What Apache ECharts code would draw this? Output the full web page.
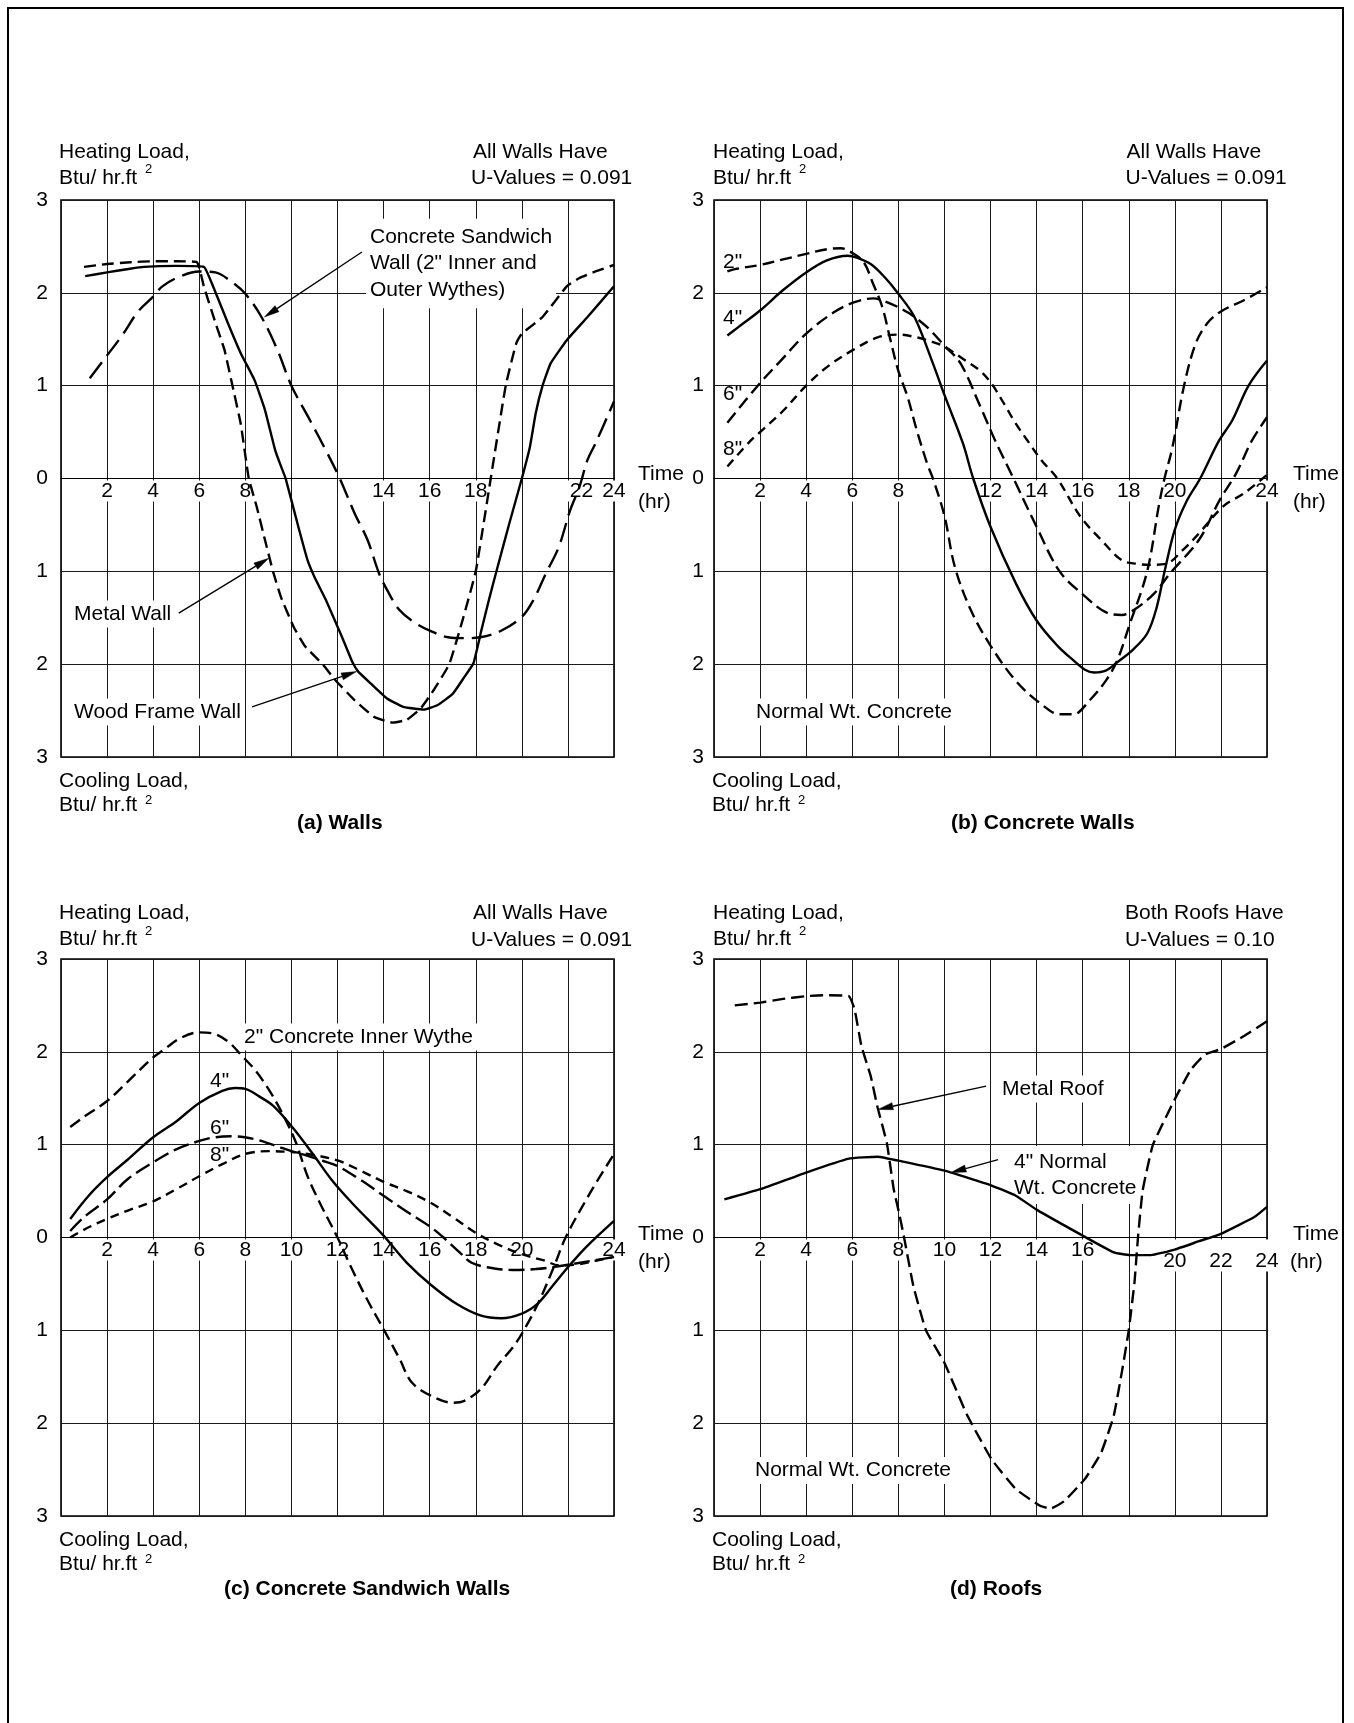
<!DOCTYPE html>
<html>
<head>
<meta charset="utf-8">
<script src="https://cdn.jsdelivr.net/npm/echarts@6/dist/echarts.min.js"></script>
<style>
html,body{margin:0;padding:0;background:#fff;}
#c{width:1354px;height:1723px;}
</style>
</head>
<body>
<div id="c"></div>
<script>
// ---------------- DATA (hour of day, load in Btu/hr.ft2; + heating, - cooling) ----------------
const hourMin = 0, hourMax = 24, hourStep = 2;
const loadMin = -3, loadMax = 3, loadStep = 1;

// x tick labels that are printed in each panel
const xLabelsA = [2, 4, 6, 8, 14, 16, 18, 22, 24];
const xLabelsB = [2, 4, 6, 8, 12, 14, 16, 18, 20, 24];
const xLabelsC = [2, 4, 6, 8, 10, 12, 14, 16, 18, 20, 24];
const xLabelsD = [2, 4, 6, 8, 10, 12, 14, 16, 20, 22, 24];

// (a) Walls
const metalWall = [[1,2.28],[2,2.31],[3,2.33],[4,2.34],[5,2.34],[5.9,2.33],[6.2,2.07],[6.7,1.68],[7.1,1.38],[7.45,0.99],[7.8,0.59],[8.15,0],[8.5,-0.31],[8.85,-0.66],[9.2,-1.0],[9.55,-1.28],[10.1,-1.6],[10.6,-1.81],[11.35,-2.0],[11.9,-2.17],[12.75,-2.39],[13.6,-2.57],[14.4,-2.63],[15,-2.6],[15.6,-2.48],[16.2,-2.27],[16.85,-2.0],[17.4,-1.55],[18,-1.0],[18.65,0],[19.3,1.0],[19.75,1.45],[20,1.56],[20.9,1.74],[21.95,2.07],[22.5,2.16],[23.2,2.23],[24,2.3]];
const woodFrameWall = [[1.05,2.18],[2,2.22],[3,2.26],[3.6,2.28],[5,2.29],[6.2,2.28],[6.55,2.1],[7.25,1.67],[7.8,1.35],[8.4,1.06],[8.85,0.74],[9.3,0.3],[9.55,0.13],[9.75,0],[10.3,-0.52],[10.7,-0.88],[11,-1.06],[11.5,-1.31],[12.2,-1.71],[12.65,-1.98],[12.9,-2.08],[13.45,-2.21],[14.15,-2.37],[14.85,-2.46],[15.75,-2.49],[16.35,-2.44],[17,-2.32],[17.5,-2.14],[17.9,-1.99],[18.25,-1.63],[18.6,-1.28],[18.95,-0.95],[19.45,-0.49],[20,0],[20.35,0.34],[20.6,0.7],[20.9,1.0],[21.25,1.24],[21.95,1.49],[22.85,1.74],[24,2.07]];
const sandwichWall = [[1.25,1.08],[1.95,1.31],[2.65,1.54],[3.35,1.8],[4,1.96],[4.4,2.07],[5.1,2.17],[6,2.23],[6.7,2.22],[7.4,2.12],[8,1.99],[8.7,1.74],[9.4,1.38],[10,1.0],[10.8,0.63],[11.5,0.3],[12.1,0],[12.75,-0.38],[13.3,-0.66],[13.8,-1.02],[14.15,-1.2],[14.7,-1.42],[15.4,-1.56],[16.1,-1.65],[16.8,-1.71],[17.5,-1.72],[18.2,-1.71],[19.1,-1.64],[20,-1.49],[20.5,-1.31],[21.05,-1.02],[21.6,-0.74],[22.1,-0.34],[22.5,-0.09],[22.85,0.2],[23.2,0.38],[24,0.83]];

// (b) Concrete walls, normal weight concrete
const concrete2in = [[0.58,2.23],[1,2.26],[2,2.3],[3,2.36],[4,2.42],[4.9,2.47],[5.5,2.48],[6,2.43],[6.5,2.33],[6.9,2.1],[7.3,1.85],[7.65,1.5],[8,1.16],[8.4,0.88],[8.8,0.52],[9.25,0.16],[9.5,0],[10,-0.4],[10.45,-0.95],[11.15,-1.42],[12,-1.8],[13.1,-2.18],[14.2,-2.43],[15,-2.54],[15.6,-2.54],[16.3,-2.39],[17,-2.18],[17.5,-1.96],[18,-1.6],[18.8,-1.0],[19.3,-0.3],[19.55,0],[19.9,0.34],[20.4,1.0],[20.9,1.45],[21.4,1.67],[22,1.8],[23,1.92],[24,2.06]];
const concrete4in = [[0.58,1.54],[1,1.62],[2,1.81],[3,2.03],[4,2.22],[4.9,2.35],[5.8,2.4],[6.2,2.38],[6.8,2.31],[7.4,2.17],[8,1.99],[8.7,1.74],[9.5,1.24],[10,0.9],[10.8,0.38],[11.25,0],[12,-0.52],[13.1,-1.13],[14,-1.53],[14.9,-1.8],[15.6,-1.96],[16.1,-2.06],[16.5,-2.09],[17,-2.07],[17.5,-1.98],[18.2,-1.84],[18.8,-1.67],[19.2,-1.4],[19.6,-0.95],[20,-0.55],[20.5,-0.25],[21.1,0],[21.9,0.4],[22.5,0.63],[23.2,1.0],[24,1.27]];
const concrete6in = [[0.58,0.6],[1.9,1.0],[2.9,1.27],[4,1.56],[5.2,1.79],[6.1,1.9],[6.9,1.94],[7.5,1.9],[8.4,1.79],[9.25,1.63],[10,1.43],[10.7,1.24],[11.55,0.78],[12.2,0.41],[13,0],[14,-0.52],[15,-1.0],[16.1,-1.27],[17,-1.44],[17.7,-1.47],[18.2,-1.42],[19.1,-1.24],[19.8,-1.02],[21.05,-0.66],[21.95,-0.23],[22.65,0.05],[23.35,0.41],[24,0.66]];
const concrete8in = [[0.58,0.13],[1.6,0.41],[2,0.5],[3,0.73],[4,1.0],[4.9,1.2],[6,1.38],[7.1,1.52],[8,1.55],[8.8,1.52],[9.5,1.47],[10,1.42],[10.8,1.29],[11.55,1.16],[12.05,1.02],[12.6,0.8],[13.1,0.59],[13.6,0.41],[14.2,0.2],[14.9,0],[15.9,-0.41],[16.8,-0.66],[17.7,-0.88],[18.4,-0.92],[18.9,-0.93],[19.6,-0.92],[20.35,-0.77],[21.05,-0.59],[22.1,-0.3],[23,-0.16],[24,0.04]];

// (c) Concrete sandwich walls (inner wythe thickness)
const sandwich2in = [[0.4,1.19],[1,1.3],[2,1.47],[2.9,1.68],[4,1.94],[4.5,2.03],[5.2,2.15],[6,2.21],[6.7,2.19],[7.3,2.1],[7.8,1.97],[8.4,1.81],[9,1.6],[9.6,1.34],[10.2,1.02],[10.7,0.66],[11.3,0.34],[12,0],[12.57,-0.31],[13.27,-0.66],[14.07,-1.02],[14.7,-1.31],[15.22,-1.56],[16.1,-1.71],[17,-1.78],[17.5,-1.76],[18.23,-1.63],[18.94,-1.38],[19.65,-1.17],[20.2,-0.95],[20.8,-0.66],[21.4,-0.31],[21.9,0],[22.8,0.41],[23.3,0.62],[24,0.9]];
const sandwich4in = [[0.4,0.2],[1.2,0.45],[2,0.65],[2.9,0.84],[4,1.08],[5,1.25],[6,1.45],[7,1.58],[7.55,1.61],[8,1.6],[8.6,1.52],[9.2,1.42],[10,1.2],[10.9,0.91],[11.75,0.62],[12.6,0.38],[13.3,0.2],[14,0.02],[15,-0.27],[16.1,-0.52],[17.2,-0.72],[18.2,-0.84],[19.1,-0.87],[20,-0.82],[20.7,-0.71],[21.4,-0.5],[22,-0.32],[22.8,-0.1],[24,0.18]];
const sandwich6in = [[0.4,0.07],[1,0.22],[2,0.41],[2.9,0.63],[4,0.81],[5,0.95],[6,1.04],[6.7,1.08],[7.5,1.09],[8.4,1.06],[9.3,0.99],[10,0.93],[10.7,0.88],[11.3,0.83],[12,0.77],[13,0.62],[14,0.45],[15,0.28],[16,0.12],[16.6,0],[17.3,-0.16],[17.8,-0.27],[18.5,-0.32],[19.6,-0.35],[20.6,-0.34],[21.6,-0.31],[22.8,-0.26],[24,-0.21]];
const sandwich8in = [[0.4,0.0],[1.2,0.11],[2,0.2],[2.9,0.29],[4,0.39],[5,0.52],[6,0.66],[7,0.79],[8,0.9],[9,0.93],[10,0.92],[10.7,0.9],[12,0.83],[13,0.72],[14,0.6],[15,0.5],[16,0.38],[17,0.22],[18,0.05],[19,-0.08],[20,-0.18],[21,-0.25],[21.6,-0.3],[22.4,-0.29],[23.2,-0.25],[24,-0.21]];

// (d) Roofs
const metalRoof = [[0.9,2.5],[2,2.53],[3,2.57],[4,2.6],[4.8,2.61],[5.85,2.6],[6.1,2.46],[6.4,2.06],[6.8,1.74],[7.1,1.4],[7.5,1.02],[7.8,0.52],[8,0.3],[8.25,0],[8.65,-0.52],[9.2,-1.0],[10,-1.35],[11,-1.92],[12.05,-2.39],[13.1,-2.71],[14.15,-2.89],[14.6,-2.92],[15.2,-2.84],[16.1,-2.6],[16.8,-2.32],[17.35,-1.92],[17.7,-1.45],[18,-1.0],[18.25,-0.48],[18.4,0],[18.6,0.5],[19.05,1.0],[20,1.49],[20.7,1.81],[21.3,1.97],[22,2.03],[23,2.17],[24,2.33]];
const concreteRoof = [[0.45,0.41],[2,0.52],[4,0.7],[5.85,0.85],[7.1,0.87],[8.15,0.82],[10,0.72],[12.05,0.56],[13.1,0.45],[14,0.3],[16,0.02],[17.35,-0.16],[18.05,-0.19],[18.95,-0.19],[20,-0.13],[21.05,-0.04],[22,0.04],[23.45,0.22],[24,0.33]];

// ---------------- LAYOUT / STYLE ----------------
const FONT = '"Liberation Sans", Arial, Helvetica, sans-serif';
const FS = 21;
const PW = 553, PH = 557;
const panels = [
  {left: 61,  top: 200, ylm: 13, labels: xLabelsA, low: [],         shift: [22]},
  {left: 714, top: 200, ylm: 10, labels: xLabelsB, low: [],         shift: []},
  {left: 61,  top: 959, ylm: 13, labels: xLabelsC, low: [],         shift: []},
  {left: 714, top: 959, ylm: 10, labels: xLabelsD, low: [20,22,24], shift: []}
];

const seriesDefs = [
  {g:0, name:'Metal Wall',        data: metalWall,     dash:[12,6], smooth:0.12},
  {g:0, name:'Wood Frame Wall',   data: woodFrameWall, dash:null,   smooth:0.12},
  {g:0, name:'Concrete Sandwich', data: sandwichWall,  dash:[20,8], smooth:0.35},
  {g:1, name:'2"', data: concrete2in, dash:[12,6], smooth:0.35},
  {g:1, name:'4"', data: concrete4in, dash:null,   smooth:0.35},
  {g:1, name:'6"', data: concrete6in, dash:[13,6], smooth:0.35},
  {g:1, name:'8"', data: concrete8in, dash:[9,6],  smooth:0.35},
  {g:2, name:'2"', data: sandwich2in, dash:[12,6], smooth:0.35},
  {g:2, name:'4"', data: sandwich4in, dash:null,   smooth:0.35},
  {g:2, name:'6"', data: sandwich6in, dash:[16,6], smooth:0.35},
  {g:2, name:'8"', data: sandwich8in, dash:[9,6],  smooth:0.35},
  {g:3, name:'Metal Roof',   data: metalRoof,    dash:[13,6], smooth:0.12},
  {g:3, name:'4" Concrete',  data: concreteRoof, dash:null,   smooth:0.12}
];

const grid = panels.map(p => ({
  left: p.left, top: p.top, width: PW, height: PH,
  show: true, borderColor: '#000', borderWidth: 1.6, backgroundColor: 'transparent',
  containLabel: false, outerBoundsMode: 'none'
}));

const xAxis = [];
panels.forEach((p, g) => {
  // base axis: vertical grid lines
  xAxis.push({
    type: 'value', gridIndex: g, min: hourMin, max: hourMax, interval: hourStep,
    position: 'top', z: 0,
    axisLine: {show: false, onZero: false}, axisTick: {show: false}, axisLabel: {show: false},
    splitLine: {show: true, lineStyle: {color: '#1a1a1a', width: 1}}
  });
  // label axis placed on the load = 0 line (middle of the symmetric load range)
  xAxis.push({
    type: 'value', gridIndex: g, min: hourMin, max: hourMax, interval: hourStep,
    position: 'bottom', offset: -PH / 2, z: 1,
    axisLine: {show: true, onZero: false, lineStyle: {color: '#000', width: 1}},
    axisTick: {show: false},
    splitLine: {show: false},
    axisLabel: {
      show: true, customValues: p.labels, margin: 2,
      showMinLabel: true, showMaxLabel: true,
      color: '#000', fontSize: FS, fontFamily: FONT,
      backgroundColor: '#fff', padding: [0, 2, 0, 2],
      formatter: v => {
        if (p.labels.indexOf(v) < 0) return '';
        if (p.low.indexOf(v) >= 0) return '{lo|' + v + '}';
        if (p.shift.indexOf(v) >= 0) return '{sh|' + v + '}';
        return '{n|' + v + '}';
      },
      rich: {
        n:  {fontSize: FS, fontFamily: FONT, color: '#000'},
        lo: {fontSize: FS, fontFamily: FONT, color: '#000', padding: [11, 0, 0, 0]},
        sh: {fontSize: FS, fontFamily: FONT, color: '#000', padding: [0, 0, 0, 27]}
      }
    }
  });
});

const yAxis = panels.map((p, g) => ({
  type: 'value', gridIndex: g, min: loadMin, max: loadMax, interval: loadStep,
  axisLine: {show: false}, axisTick: {show: false},
  splitLine: {show: true, lineStyle: {color: '#1a1a1a', width: 1}},
  axisLabel: {
    show: true, margin: p.ylm, color: '#000', fontSize: FS, fontFamily: FONT,
    padding: [5, 0, 0, 0],
    showMinLabel: true, showMaxLabel: true,
    formatter: v => String(Math.abs(v))
  }
}));

const series = seriesDefs.map(s => ({
  type: 'line', name: s.name, xAxisIndex: 2 * s.g, yAxisIndex: s.g,
  data: s.data, symbol: 'none', showSymbol: false,
  smooth: s.smooth,
  lineStyle: {color: '#000', width: 2.4, type: s.dash ? s.dash : 'solid'},
  z: 2, silent: true, animation: false
}));

const chart = echarts.init(document.getElementById('c'), null, {renderer: 'canvas', width: 1354, height: 1723});
chart.setOption({
  backgroundColor: '#fff',
  animation: false,
  grid, xAxis, yAxis, series
});

// ---------------- TEXT + ANNOTATIONS ----------------
function txt(x, y, s, o) {
  o = o || {};
  const size = o.size || FS;
  const weight = o.bold ? 'bold' : 'normal';
  const st = {
    text: s, x: 0, y: 0, fill: '#000',
    font: weight + ' ' + size + 'px ' + FONT,
    fontSize: size, fontFamily: FONT, fontWeight: weight,
    align: 'left', textAlign: 'left', verticalAlign: 'middle', textVerticalAlign: 'middle'
  };
  if (o.lh) st.lineHeight = o.lh;
  if (o.bg) { st.backgroundColor = '#fff'; st.padding = o.pad || [3, 4, 3, 4]; }
  return {type: 'text', x: x, y: y, z: o.bg ? 1 : 5, silent: true, style: st};
}
function btu(x, y, supDy) {
  return [txt(x, y, 'Btu/ hr.ft'), txt(x + 86, y - supDy, '2', {size: 13})];
}

const g = [];
// frame
g.push({type: 'rect', z: 6, silent: true, shape: {x: 8, y: 8, width: 1335, height: 1760},
        style: {fill: 'none', stroke: '#000', lineWidth: 2}});

// panel (a)
g.push(txt(59, 152, 'Heating Load,'), ...btu(59, 178, 8.5));
g.push(txt(473, 152, 'All Walls Have'), txt(471, 178, 'U-Values = 0.091'));
g.push(txt(638, 474, 'Time'), txt(638, 502, '(hr)'));
g.push(txt(59, 781, 'Cooling Load,'), ...btu(59, 805, 5));
g.push(txt(297, 823, '(a) Walls', {bold: true}));
g.push(txt(366, 263.5, 'Concrete Sandwich\nWall (2" Inner and\nOuter Wythes)', {bg: true, lh: 26.5, pad: [5, 4, 5, 4]}));
g.push(txt(70, 614, 'Metal Wall', {bg: true}));
g.push(txt(70, 712, 'Wood Frame Wall', {bg: true}));

// panel (b)
g.push(txt(713, 152, 'Heating Load,'), ...btu(713, 178, 8.5));
g.push(txt(1126.5, 152, 'All Walls Have'), txt(1125.5, 178, 'U-Values = 0.091'));
g.push(txt(1293, 474, 'Time'), txt(1293, 502, '(hr)'));
g.push(txt(712, 781, 'Cooling Load,'), ...btu(712, 805, 5));
g.push(txt(951, 823, '(b) Concrete Walls', {bold: true}));
g.push(txt(723, 262, '2"'), txt(723, 318, '4"'), txt(723, 394, '6"'), txt(723, 449, '8"'));
g.push(txt(752, 712, 'Normal Wt. Concrete', {bg: true}));

// panel (c)
g.push(txt(59, 913.5, 'Heating Load,'), ...btu(59, 939, 8));
g.push(txt(473, 913.5, 'All Walls Have'), txt(471, 940, 'U-Values = 0.091'));
g.push(txt(638, 1234, 'Time'), txt(638, 1262, '(hr)'));
g.push(txt(59, 1540, 'Cooling Load,'), ...btu(59, 1564, 5));
g.push(txt(224, 1589.5, '(c) Concrete Sandwich Walls', {bold: true}));
g.push(txt(240, 1037, '2" Concrete Inner Wythe', {bg: true}));
g.push(txt(210, 1081, '4"'), txt(210, 1128.5, '6"'), txt(210, 1155, '8"'));

// panel (d)
g.push(txt(713, 913.5, 'Heating Load,'), ...btu(713, 939, 8));
g.push(txt(1125, 913.5, 'Both Roofs Have'), txt(1125, 940, 'U-Values = 0.10'));
g.push(txt(1293, 1234, 'Time'), txt(1290, 1262, '(hr)'));
g.push(txt(712, 1540, 'Cooling Load,'), ...btu(712, 1564, 5));
g.push(txt(950, 1589.5, '(d) Roofs', {bold: true}));
g.push(txt(998, 1089, 'Metal Roof', {bg: true}));
g.push(txt(1010, 1175, '4" Normal\nWt. Concrete', {bg: true, lh: 26}));
g.push(txt(751, 1470.5, 'Normal Wt. Concrete', {bg: true}));

// leader arrows: from label (hour, load) to the curve (hour, load)
const arrows = [
  {g: 0, from: [13.06, 2.44],  to: [8.83, 1.74]},
  {g: 0, from: [5.11, -1.45],  to: [9.01, -0.86]},
  {g: 0, from: [8.29, -2.46],  to: [12.82, -2.08]},
  {g: 3, from: [11.81, 1.63],  to: [7.12, 1.38]},
  {g: 3, from: [12.33, 0.84],  to: [10.29, 0.70]}
];
arrows.forEach(a => {
  const f = {xAxisIndex: 2 * a.g, yAxisIndex: a.g};
  const p0 = chart.convertToPixel(f, a.from);
  const p1 = chart.convertToPixel(f, a.to);
  const dx = p1[0] - p0[0], dy = p1[1] - p0[1], L = Math.hypot(dx, dy);
  const ux = dx / L, uy = dy / L, hl = 15, hw = 3.6;
  const bx = p1[0] - ux * hl, by = p1[1] - uy * hl;
  g.push({type: 'line', z: 5, silent: true,
          shape: {x1: p0[0], y1: p0[1], x2: bx, y2: by},
          style: {stroke: '#000', lineWidth: 1.3}});
  g.push({type: 'polygon', z: 5, silent: true,
          shape: {points: [[p1[0], p1[1]], [bx - uy * hw, by + ux * hw], [bx + uy * hw, by - ux * hw]]},
          style: {fill: '#000', stroke: '#000', lineWidth: 0.5}});
});

chart.setOption({graphic: {elements: g}});
</script>
</body>
</html>
